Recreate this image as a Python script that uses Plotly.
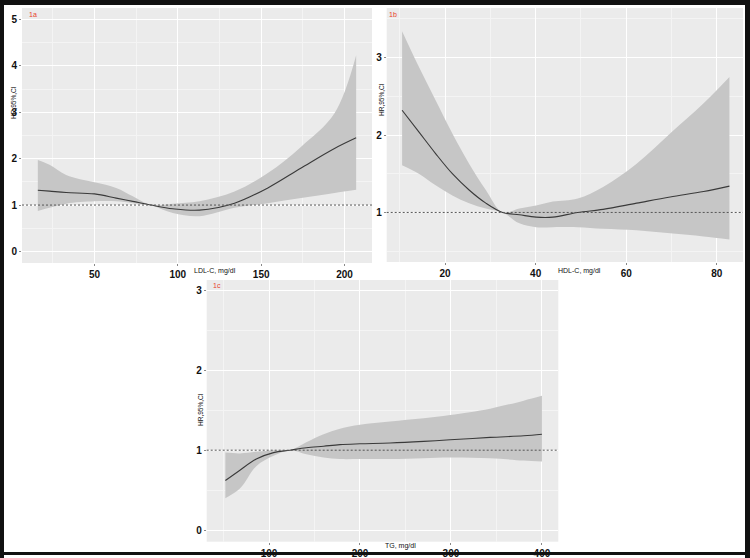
import plotly.graph_objects as go

# ---- Panel 1a: LDL-C ----
ldl_x = [16, 23, 33, 50, 63, 73, 84, 97, 113, 134, 154, 174, 194, 207]
ldl_hr = [1.32, 1.30, 1.27, 1.24, 1.15, 1.08, 1.00, 0.92, 0.89, 1.04, 1.37, 1.80, 2.22, 2.45]
ldl_up = [1.97, 1.87, 1.65, 1.49, 1.37, 1.19, 1.00, 1.03, 1.08, 1.29, 1.69, 2.26, 2.98, 4.23]
ldl_lo = [0.87, 0.94, 1.03, 1.08, 1.08, 1.04, 0.99, 0.83, 0.76, 0.94, 1.04, 1.15, 1.26, 1.33]

# ---- Panel 1b: HDL-C ----
hdl_x = [10.5, 14.2, 17.9, 21.6, 25.3, 29.0, 32.7, 36.4, 40.1, 43.8, 49.3, 54.9, 62.3, 69.7, 77.1, 82.8]
hdl_hr = [2.32, 2.04, 1.76, 1.50, 1.29, 1.12, 1.00, 0.97, 0.94, 0.94, 1.00, 1.04, 1.12, 1.20, 1.27, 1.34]
hdl_up = [3.34, 2.88, 2.45, 2.02, 1.63, 1.29, 1.00, 1.05, 1.09, 1.14, 1.18, 1.33, 1.63, 2.02, 2.41, 2.75]
hdl_lo = [1.61, 1.50, 1.35, 1.22, 1.12, 1.05, 1.00, 0.86, 0.81, 0.81, 0.81, 0.79, 0.77, 0.73, 0.69, 0.65]

# ---- Panel 1c: TG ----
tg_x = [52, 68, 86, 105, 123, 141, 160, 178, 200, 233, 270, 299, 343, 380, 400]
tg_hr = [0.62, 0.75, 0.89, 0.97, 1.00, 1.03, 1.05, 1.07, 1.08, 1.09, 1.11, 1.13, 1.16, 1.18, 1.20]
tg_up = [0.97, 0.96, 0.98, 1.00, 1.00, 1.10, 1.20, 1.27, 1.32, 1.36, 1.40, 1.44, 1.52, 1.62, 1.68]
tg_lo = [0.40, 0.52, 0.80, 0.93, 1.00, 0.95, 0.91, 0.89, 0.89, 0.89, 0.90, 0.91, 0.90, 0.87, 0.86]

panel_tags = ["1a", "1b", "1c"]
x_titles = ["LDL-C, mg/dl", "HDL-C, mg/dl", "TG, mg/dl"]
y_title = "HR,95%,CI"

W, H = 750, 558

def px(x):
    return x / W

def py(y):
    return 1 - y / H

BAND = "#c6c6c6"
LINE = "#3a3a3a"

fig = go.Figure()

panels = [
    dict(x=ldl_x, hr=ldl_hr, up=ldl_up, lo=ldl_lo, ax="x", ay="y"),
    dict(x=hdl_x, hr=hdl_hr, up=hdl_up, lo=hdl_lo, ax="x2", ay="y2"),
    dict(x=tg_x, hr=tg_hr, up=tg_up, lo=tg_lo, ax="x3", ay="y3"),
]

for p in panels:
    fig.add_trace(go.Scatter(x=p["x"], y=p["lo"], xaxis=p["ax"], yaxis=p["ay"],
                             mode="lines", line=dict(width=0, color=BAND, shape="spline"),
                             showlegend=False, hoverinfo="skip"))
    fig.add_trace(go.Scatter(x=p["x"], y=p["up"], xaxis=p["ax"], yaxis=p["ay"],
                             mode="lines", line=dict(width=0, color=BAND, shape="spline"),
                             fill="tonexty", fillcolor=BAND,
                             showlegend=False, hoverinfo="skip"))
    fig.add_trace(go.Scatter(x=p["x"], y=p["hr"], xaxis=p["ax"], yaxis=p["ay"],
                             mode="lines", line=dict(width=1.1, color=LINE, shape="spline"),
                             showlegend=False))

tickfont = dict(family="Liberation Sans", size=10, color="#111111", weight="bold")

def axis_common():
    return dict(showgrid=True, gridcolor="white", gridwidth=1.1,
                zeroline=False, showline=False, automargin=False,
                ticks="outside", ticklen=2, tickcolor="#888888", tickwidth=1,
                tickfont=tickfont)

MINOR = dict(showgrid=True, gridcolor="#f4f4f4", gridwidth=0.6, ticks="")

dom = {
    "a": dict(x=[px(22), px(372)], y=[py(263), py(8)]),
    "b": dict(x=[px(386.7), px(743)], y=[py(262), py(8)]),
    "c": dict(x=[px(206.7), px(558.3)], y=[py(541.7), py(280)]),
}

fig.update_layout(
    xaxis=dict(domain=dom["a"]["x"], anchor="y", range=[6.5, 216.5], tickvals=[50, 100, 150, 200],
               minor=dict(tickvals=[25, 75, 125, 175], **MINOR), **axis_common()),
    yaxis=dict(domain=dom["a"]["y"], anchor="x", range=[-0.25, 5.25], tickvals=[0, 1, 2, 3, 4, 5],
               minor=dict(tickvals=[0.5, 1.5, 2.5, 3.5, 4.5], **MINOR), **axis_common()),
    xaxis2=dict(domain=dom["b"]["x"], anchor="y2", range=[7.1, 85.8], tickvals=[20, 40, 60, 80],
                minor=dict(tickvals=[10, 30, 50, 70], **MINOR), **axis_common()),
    yaxis2=dict(domain=dom["b"]["y"], anchor="x2", range=[0.36, 3.64], tickvals=[1, 2, 3],
                minor=dict(tickvals=[0.5, 1.5, 2.5, 3.5], **MINOR), **axis_common()),
    xaxis3=dict(domain=dom["c"]["x"], anchor="y3", range=[31.5, 418], tickvals=[100, 200, 300, 400],
                minor=dict(tickvals=[50, 150, 250, 350], **MINOR), **axis_common()),
    yaxis3=dict(domain=dom["c"]["y"], anchor="x3", range=[-0.145, 3.13], tickvals=[0, 1, 2, 3],
                minor=dict(tickvals=[0.5, 1.5, 2.5], **MINOR), **axis_common()),
    width=W, height=H, autosize=False,
    margin=dict(l=0, r=0, t=0, b=0, pad=0),
    paper_bgcolor="white", plot_bgcolor="#ebebeb",
    showlegend=False,
)

shapes = []
for xr, yr in [("x", "y"), ("x2", "y2"), ("x3", "y3")]:
    shapes.append(dict(type="line", xref=f"{xr} domain", yref=yr, x0=0, x1=1, y0=1, y1=1,
                       line=dict(color="#555555", width=1, dash="2px,2px"), layer="above"))
frame = [
    (0, 4, 0, H),
    (0, W, 0, 5),
    (745, W, 0, H),
    (0, W, 552, 555),
]
for x0, x1, y0, y1 in frame:
    shapes.append(dict(type="rect", xref="paper", yref="paper",
                       x0=px(x0), x1=px(x1), y0=py(y1), y1=py(y0),
                       fillcolor="#111111", line=dict(width=0), layer="below"))
fig.update_layout(shapes=shapes)

ann = []
for tag, (x, y) in zip(panel_tags, [(32.5, 14), (392.5, 14), (217, 285)]):
    ann.append(dict(text=tag, x=px(x), y=py(y), xref="paper", yref="paper", showarrow=False,
                    xanchor="center", yanchor="middle",
                    font=dict(family="Liberation Sans", size=7, color="#e8412c")))
for t, (x, y) in zip(x_titles, [(215, 271), (579, 271), (400, 546)]):
    ann.append(dict(text=t, x=px(x), y=py(y), xref="paper", yref="paper", showarrow=False,
                    xanchor="center", yanchor="middle",
                    font=dict(family="Liberation Sans", size=7, color="#111111")))
for (x, y) in [(13, 103), (381, 100), (200, 410)]:
    ann.append(dict(text=y_title, x=px(x), y=py(y), xref="paper", yref="paper", showarrow=False,
                    xanchor="center", yanchor="middle",
                    textangle=-90, font=dict(family="Liberation Sans", size=6.5, color="#111111")))
fig.update_layout(annotations=ann)

fig.write_html("out.html", config={"displayModeBar": False},
               post_script="document.body.style.margin='0';document.body.style.overflow='hidden';")
